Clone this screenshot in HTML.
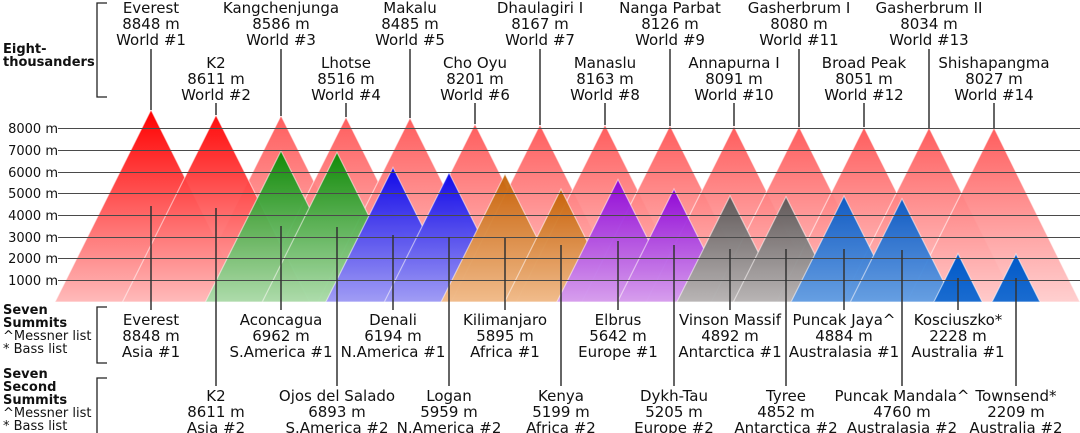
<!DOCTYPE html>
<html><head><meta charset="utf-8"><style>
html,body{margin:0;padding:0;background:#fff;}
svg{display:block;font-family:"DejaVu Sans","Liberation Sans",sans-serif;}
.l{font-size:15px;text-anchor:middle;fill:#111;}
.a{font-size:13px;text-anchor:end;fill:#111;}
.s{font-size:13px;fill:#111;}
.b{font-size:13px;font-weight:bold;fill:#111;}
polygon{stroke:rgba(255,255,255,0.55);stroke-width:1.2;}
</style></head><body>
<svg width="1080" height="433" viewBox="0 0 1080 433" xmlns="http://www.w3.org/2000/svg">
<defs>
<linearGradient id="r0" x1="0" y1="0" x2="0" y2="1"><stop offset="0" stop-color="#ff0000"/><stop offset="1" stop-color="#ffbaba"/></linearGradient>
<linearGradient id="r1" x1="0" y1="0" x2="0" y2="1"><stop offset="0" stop-color="#ff5555" stop-opacity="0.95"/><stop offset="1" stop-color="#ffcaca" stop-opacity="0.9"/></linearGradient>
<linearGradient id="g" x1="0" y1="0" x2="0" y2="1"><stop offset="0" stop-color="#008c00"/><stop offset="1" stop-color="#a8deaa"/></linearGradient>
<linearGradient id="bl" x1="0" y1="0" x2="0" y2="1"><stop offset="0" stop-color="#0000f0"/><stop offset="1" stop-color="#9a9af8"/></linearGradient>
<linearGradient id="o" x1="0" y1="0" x2="0" y2="1"><stop offset="0" stop-color="#c46000"/><stop offset="1" stop-color="#f0bb88"/></linearGradient>
<linearGradient id="p" x1="0" y1="0" x2="0" y2="1"><stop offset="0" stop-color="#8a00dc"/><stop offset="1" stop-color="#d49cf0"/></linearGradient>
<linearGradient id="gr" x1="0" y1="0" x2="0" y2="1"><stop offset="0" stop-color="#555555"/><stop offset="1" stop-color="#b4b4b4"/></linearGradient>
<linearGradient id="au" x1="0" y1="0" x2="0" y2="1"><stop offset="0" stop-color="#0058c8"/><stop offset="1" stop-color="#5c9ce4"/></linearGradient>
<linearGradient id="ko" x1="0" y1="0" x2="0" y2="1"><stop offset="0" stop-color="#0058c8"/><stop offset="1" stop-color="#1a6cd0"/></linearGradient>
</defs>
<g fill="url(#r1)">
<polygon points="281,115.6 374.2,302 187.8,302"/>
<polygon points="346,117.1 438.4,302 253.6,302"/>
<polygon points="410,117.8 502.1,302 317.9,302"/>
<polygon points="475,124 564,302 386,302"/>
<polygon points="540,124.7 628.7,302 451.3,302"/>
<polygon points="605,124.8 693.6,302 516.4,302"/>
<polygon points="670,125.6 758.2,302 581.8,302"/>
<polygon points="734,126.3 821.8,302 646.2,302"/>
<polygon points="799,126.6 886.7,302 711.3,302"/>
<polygon points="864,127.2 951.4,302 776.6,302"/>
<polygon points="929,127.6 1016.2,302 841.8,302"/>
<polygon points="994,127.7 1080,302 906.9,302"/>
</g>
<polygon fill="url(#r0)" points="151,109.9 247,302 55,302"/>
<polygon fill="url(#r0)" points="216,115.1 309.5,302 122.5,302" opacity="0.95"/>
<g opacity="0.93">
<polygon fill="url(#g)" points="281,150.9 356.6,302 205.4,302"/>
<polygon fill="url(#g)" points="337,152.4 411.8,302 262.2,302"/>
<polygon fill="url(#bl)" points="393,167.5 460.2,302 325.8,302"/>
<polygon fill="url(#bl)" points="449,172.6 513.7,302 384.3,302"/>
<polygon fill="url(#o)" points="505,174 569,302 441,302"/>
<polygon fill="url(#o)" points="561,189.1 617.4,302 504.6,302"/>
<polygon fill="url(#p)" points="618,179.5 679.2,302 556.8,302"/>
<polygon fill="url(#p)" points="674,189 730.5,302 617.5,302"/>
<polygon fill="url(#gr)" points="730,195.8 783.1,302 676.9,302"/>
<polygon fill="url(#gr)" points="786,196.7 838.7,302 733.3,302"/>
<polygon fill="url(#au)" points="844,196 897,302 791,302"/>
<polygon fill="url(#au)" points="902,198.7 953.7,302 850.3,302"/>
</g>
<polygon fill="url(#ko)" points="958,253.6 982.2,302 933.8,302"/>
<polygon fill="url(#ko)" points="1016,254 1040,302 992,302"/>
<g stroke="#4a4a4a" stroke-width="1">
<line x1="58" y1="128.5" x2="1080" y2="128.5"/>
<line x1="58" y1="150.5" x2="1080" y2="150.5"/>
<line x1="58" y1="172.5" x2="1080" y2="172.5"/>
<line x1="58" y1="193.5" x2="1080" y2="193.5"/>
<line x1="58" y1="215.5" x2="1080" y2="215.5"/>
<line x1="58" y1="237.5" x2="1080" y2="237.5"/>
<line x1="58" y1="258.5" x2="1080" y2="258.5"/>
<line x1="58" y1="280.5" x2="1080" y2="280.5"/>
</g>
<text x="58" y="133" class="a">8000 m</text>
<text x="58" y="155" class="a">7000 m</text>
<text x="58" y="177" class="a">6000 m</text>
<text x="58" y="198" class="a">5000 m</text>
<text x="58" y="220" class="a">4000 m</text>
<text x="58" y="242" class="a">3000 m</text>
<text x="58" y="263" class="a">2000 m</text>
<text x="58" y="285" class="a">1000 m</text>
<g stroke="#333" stroke-width="1.5">
<line x1="151" y1="49" x2="151" y2="110"/>
<line x1="216" y1="103" x2="216" y2="115"/>
<line x1="281" y1="49" x2="281" y2="116"/>
<line x1="346" y1="103" x2="346" y2="117"/>
<line x1="410" y1="49" x2="410" y2="118"/>
<line x1="475" y1="103" x2="475" y2="124"/>
<line x1="540" y1="49" x2="540" y2="125"/>
<line x1="605" y1="103" x2="605" y2="125"/>
<line x1="670" y1="49" x2="670" y2="126"/>
<line x1="734" y1="103" x2="734" y2="126"/>
<line x1="799" y1="49" x2="799" y2="127"/>
<line x1="864" y1="103" x2="864" y2="127"/>
<line x1="929" y1="49" x2="929" y2="128"/>
<line x1="994" y1="103" x2="994" y2="128"/>
<line x1="151" y1="206" x2="151" y2="310"/>
<line x1="281" y1="226" x2="281" y2="310"/>
<line x1="393" y1="235" x2="393" y2="310"/>
<line x1="505" y1="238" x2="505" y2="310"/>
<line x1="618" y1="241" x2="618" y2="310"/>
<line x1="730" y1="249" x2="730" y2="310"/>
<line x1="844" y1="249" x2="844" y2="310"/>
<line x1="958" y1="278" x2="958" y2="310"/>
<line x1="216" y1="208" x2="216" y2="386"/>
<line x1="337" y1="227" x2="337" y2="386"/>
<line x1="449" y1="237" x2="449" y2="386"/>
<line x1="561" y1="245" x2="561" y2="386"/>
<line x1="674" y1="245" x2="674" y2="386"/>
<line x1="786" y1="249" x2="786" y2="386"/>
<line x1="902" y1="250" x2="902" y2="386"/>
<line x1="1016" y1="278" x2="1016" y2="386"/>
</g>
<g stroke="#222" stroke-width="1.3" fill="none">
<polyline points="107,3 97,3 97,97 107,97"/>
<polyline points="107,307 97,307 97,363 107,363"/>
<polyline points="107,378 97,378 97,440"/>
</g>
<text x="3" y="53" class="b">Eight-</text>
<text x="3" y="66" class="b">thousanders</text>
<text x="3" y="314" class="b">Seven</text>
<text x="3" y="327" class="b">Summits</text>
<text x="3" y="340" class="s">^Messner list</text>
<text x="3" y="353" class="s">* Bass list</text>
<text x="3" y="378" class="b">Seven</text>
<text x="3" y="391" class="b">Second</text>
<text x="3" y="404" class="b">Summits</text>
<text x="3" y="417" class="s">^Messner list</text>
<text x="3" y="430" class="s">* Bass list</text>
<text x="151" y="13" class="l">Everest</text><text x="151" y="29" class="l">8848 m</text><text x="151" y="45" class="l">World #1</text>
<text x="281" y="13" class="l">Kangchenjunga</text><text x="281" y="29" class="l">8586 m</text><text x="281" y="45" class="l">World #3</text>
<text x="410" y="13" class="l">Makalu</text><text x="410" y="29" class="l">8485 m</text><text x="410" y="45" class="l">World #5</text>
<text x="540" y="13" class="l">Dhaulagiri I</text><text x="540" y="29" class="l">8167 m</text><text x="540" y="45" class="l">World #7</text>
<text x="670" y="13" class="l">Nanga Parbat</text><text x="670" y="29" class="l">8126 m</text><text x="670" y="45" class="l">World #9</text>
<text x="799" y="13" class="l">Gasherbrum I</text><text x="799" y="29" class="l">8080 m</text><text x="799" y="45" class="l">World #11</text>
<text x="929" y="13" class="l">Gasherbrum II</text><text x="929" y="29" class="l">8034 m</text><text x="929" y="45" class="l">World #13</text>
<text x="216" y="68" class="l">K2</text><text x="216" y="84" class="l">8611 m</text><text x="216" y="100" class="l">World #2</text>
<text x="346" y="68" class="l">Lhotse</text><text x="346" y="84" class="l">8516 m</text><text x="346" y="100" class="l">World #4</text>
<text x="475" y="68" class="l">Cho Oyu</text><text x="475" y="84" class="l">8201 m</text><text x="475" y="100" class="l">World #6</text>
<text x="605" y="68" class="l">Manaslu</text><text x="605" y="84" class="l">8163 m</text><text x="605" y="100" class="l">World #8</text>
<text x="734" y="68" class="l">Annapurna I</text><text x="734" y="84" class="l">8091 m</text><text x="734" y="100" class="l">World #10</text>
<text x="864" y="68" class="l">Broad Peak</text><text x="864" y="84" class="l">8051 m</text><text x="864" y="100" class="l">World #12</text>
<text x="994" y="68" class="l">Shishapangma</text><text x="994" y="84" class="l">8027 m</text><text x="994" y="100" class="l">World #14</text>
<text x="151" y="325" class="l">Everest</text><text x="151" y="341" class="l">8848 m</text><text x="151" y="357" class="l">Asia #1</text>
<text x="281" y="325" class="l">Aconcagua</text><text x="281" y="341" class="l">6962 m</text><text x="281" y="357" class="l">S.America #1</text>
<text x="393" y="325" class="l">Denali</text><text x="393" y="341" class="l">6194 m</text><text x="393" y="357" class="l">N.America #1</text>
<text x="505" y="325" class="l">Kilimanjaro</text><text x="505" y="341" class="l">5895 m</text><text x="505" y="357" class="l">Africa #1</text>
<text x="618" y="325" class="l">Elbrus</text><text x="618" y="341" class="l">5642 m</text><text x="618" y="357" class="l">Europe #1</text>
<text x="730" y="325" class="l">Vinson Massif</text><text x="730" y="341" class="l">4892 m</text><text x="730" y="357" class="l">Antarctica #1</text>
<text x="844" y="325" class="l">Puncak Jaya^</text><text x="844" y="341" class="l">4884 m</text><text x="844" y="357" class="l">Australasia #1</text>
<text x="958" y="325" class="l">Kosciuszko*</text><text x="958" y="341" class="l">2228 m</text><text x="958" y="357" class="l">Australia #1</text>
<text x="216" y="401" class="l">K2</text><text x="216" y="417" class="l">8611 m</text><text x="216" y="433" class="l">Asia #2</text>
<text x="337" y="401" class="l">Ojos del Salado</text><text x="337" y="417" class="l">6893 m</text><text x="337" y="433" class="l">S.America #2</text>
<text x="449" y="401" class="l">Logan</text><text x="449" y="417" class="l">5959 m</text><text x="449" y="433" class="l">N.America #2</text>
<text x="561" y="401" class="l">Kenya</text><text x="561" y="417" class="l">5199 m</text><text x="561" y="433" class="l">Africa #2</text>
<text x="674" y="401" class="l">Dykh-Tau</text><text x="674" y="417" class="l">5205 m</text><text x="674" y="433" class="l">Europe #2</text>
<text x="786" y="401" class="l">Tyree</text><text x="786" y="417" class="l">4852 m</text><text x="786" y="433" class="l">Antarctica #2</text>
<text x="902" y="401" class="l">Puncak Mandala^</text><text x="902" y="417" class="l">4760 m</text><text x="902" y="433" class="l">Australasia #2</text>
<text x="1016" y="401" class="l">Townsend*</text><text x="1016" y="417" class="l">2209 m</text><text x="1016" y="433" class="l">Australia #2</text>
</svg>
</body></html>
